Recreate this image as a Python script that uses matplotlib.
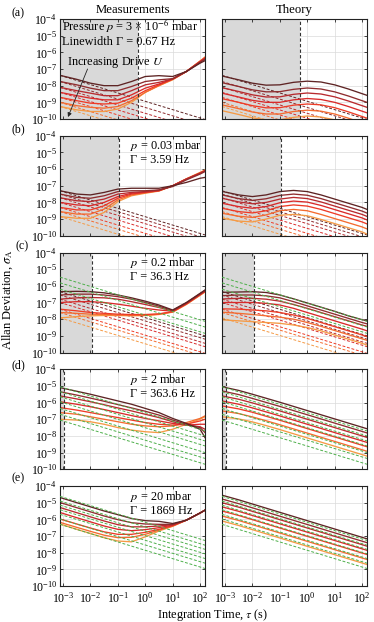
import numpy as np
import matplotlib
matplotlib.use("Agg")
import matplotlib.pyplot as plt

plt.rcParams['font.family'] = ['Liberation Serif', 'DejaVu Serif']
plt.rcParams['mathtext.fontset'] = 'stix'

# ---------------- data (log10 of Allan deviation) ----------------
LOG_TAU = [-3.11, -2.5, -2.0, -1.5, -1.0, -0.5, 0.0, 0.5, 1.0, 1.5, 2.0, 2.18]
TAU_LEFT, TAU_RIGHT = -3.11, 2.18

# curves ordered from lowest drive (orange) to highest drive (dark brown)
DRIVE_COLORS = ['#f59a45', '#f46b2f', '#ee3b26', '#d92a2a', '#b82a2e', '#8f2d2f', '#5e2424']
GREEN = '#4daf4a'

meas_a = [
    [-9.25, -9.45, -9.55, -9.55, -9.4, -9.0, -8.4, -8.0, -7.65, -7.15, -6.52, -6.28],
    [-9.0, -9.2, -9.3, -9.35, -9.25, -8.9, -8.4, -8.0, -7.62, -7.15, -6.53, -6.3],
    [-8.7, -8.9, -9.05, -9.1, -9.05, -8.75, -8.3, -7.95, -7.6, -7.15, -6.55, -6.33],
    [-8.4, -8.6, -8.75, -8.85, -8.85, -8.55, -8.15, -7.9, -7.6, -7.15, -6.56, -6.35],
    [-8.1, -8.3, -8.45, -8.6, -8.6, -8.3, -7.95, -7.8, -7.6, -7.15, -6.58, -6.38],
    [-7.75, -7.95, -8.15, -8.3, -8.3, -8.05, -7.75, -7.65, -7.58, -7.15, -6.6, -6.42],
    [-7.38, -7.62, -7.85, -8.0, -8.0, -7.75, -7.45, -7.4, -7.45, -7.15, -6.65, -6.5],
]
theory_a = [
    [-9.5, -9.73, -9.93, -10.05, -10.05, -9.9, -9.82, -9.88, -10.05, -10.3, -10.58, -10.68],
    [-9.15, -9.38, -9.58, -9.7, -9.7, -9.55, -9.47, -9.53, -9.7, -9.95, -10.23, -10.33],
    [-8.78, -9.0, -9.2, -9.33, -9.32, -9.17, -9.1, -9.15, -9.32, -9.57, -9.85, -9.95],
    [-8.45, -8.68, -8.88, -9.0, -9.0, -8.85, -8.77, -8.83, -9.0, -9.25, -9.53, -9.63],
    [-8.12, -8.35, -8.55, -8.68, -8.67, -8.52, -8.44, -8.5, -8.67, -8.92, -9.2, -9.3],
    [-7.82, -8.05, -8.25, -8.37, -8.36, -8.22, -8.14, -8.2, -8.37, -8.62, -8.9, -9.0],
    [-7.42, -7.65, -7.85, -7.97, -7.95, -7.8, -7.73, -7.78, -7.95, -8.2, -8.48, -8.58],
]
meas_b = [
    [-8.85, -8.95, -8.95, -8.6, -7.95, -7.6, -7.45, -7.32, -7.0, -6.58, -6.2, -6.05],
    [-8.55, -8.7, -8.7, -8.4, -7.85, -7.55, -7.42, -7.3, -7.0, -6.6, -6.22, -6.08],
    [-8.3, -8.45, -8.45, -8.2, -7.75, -7.5, -7.4, -7.3, -7.0, -6.6, -6.25, -6.1],
    [-8.0, -8.15, -8.2, -8.0, -7.65, -7.45, -7.38, -7.28, -7.0, -6.6, -6.25, -6.1],
    [-7.72, -7.9, -7.95, -7.8, -7.5, -7.4, -7.35, -7.27, -7.0, -6.6, -6.25, -6.1],
    [-7.5, -7.7, -7.75, -7.6, -7.35, -7.3, -7.3, -7.25, -7.05, -6.65, -6.3, -6.15],
    [-7.3, -7.5, -7.55, -7.4, -7.2, -7.15, -7.15, -7.15, -7.0, -6.8, -6.55, -6.5],
]
theory_b = [
    [-8.95, -9.12, -9.17, -9.0, -8.77, -8.72, -8.8, -9.02, -9.27, -9.52, -9.77, -9.9],
    [-8.65, -8.83, -8.9, -8.75, -8.5, -8.42, -8.5, -8.72, -8.97, -9.22, -9.47, -9.59],
    [-8.35, -8.55, -8.63, -8.5, -8.25, -8.15, -8.22, -8.42, -8.67, -8.92, -9.17, -9.29],
    [-8.05, -8.25, -8.35, -8.25, -8.02, -7.92, -7.98, -8.18, -8.43, -8.68, -8.93, -9.05],
    [-7.75, -7.97, -8.08, -8.0, -7.8, -7.7, -7.77, -7.97, -8.22, -8.47, -8.72, -8.84],
    [-7.55, -7.77, -7.88, -7.78, -7.58, -7.5, -7.57, -7.77, -8.02, -8.27, -8.52, -8.64],
    [-7.34, -7.55, -7.65, -7.55, -7.35, -7.28, -7.35, -7.55, -7.8, -8.05, -8.3, -8.42],
]
meas_c = [
    [-7.92, -7.85, -7.8, -7.78, -7.78, -7.8, -7.78, -7.72, -7.58, -7.12, -6.57, -6.37],
    [-7.6, -7.65, -7.7, -7.72, -7.75, -7.77, -7.77, -7.7, -7.56, -7.1, -6.55, -6.35],
    [-7.4, -7.5, -7.6, -7.65, -7.7, -7.72, -7.72, -7.68, -7.55, -7.08, -6.53, -6.33],
    [-7.0, -6.95, -6.95, -7.0, -7.1, -7.22, -7.35, -7.45, -7.52, -7.07, -6.52, -6.32],
    [-6.8, -6.72, -6.7, -6.72, -6.8, -6.95, -7.12, -7.3, -7.5, -7.05, -6.5, -6.3],
    [-6.55, -6.5, -6.5, -6.55, -6.65, -6.8, -7.0, -7.22, -7.48, -7.02, -6.47, -6.27],
    [-6.35, -6.33, -6.35, -6.42, -6.55, -6.72, -6.92, -7.15, -7.45, -7.0, -6.45, -6.25],
]
theory_c = [
    [-8.04, -8.1, -8.15, -8.2, -8.25, -8.35, -8.5, -8.7, -8.95, -9.2, -9.45, -9.55],
    [-7.58, -7.65, -7.72, -7.8, -7.88, -8.0, -8.2, -8.43, -8.68, -8.93, -9.18, -9.27],
    [-7.38, -7.4, -7.45, -7.5, -7.6, -7.75, -7.95, -8.2, -8.45, -8.7, -8.95, -9.05],
    [-7.0, -7.0, -7.0, -7.05, -7.15, -7.35, -7.6, -7.85, -8.1, -8.35, -8.6, -8.7],
    [-6.79, -6.75, -6.75, -6.8, -6.92, -7.12, -7.35, -7.6, -7.85, -8.1, -8.35, -8.43],
    [-6.59, -6.55, -6.55, -6.6, -6.72, -6.95, -7.2, -7.45, -7.7, -7.95, -8.2, -8.28],
    [-6.39, -6.37, -6.35, -6.4, -6.55, -6.78, -7.03, -7.28, -7.53, -7.8, -8.03, -8.1],
]
meas_d = [
    [-7.0, -7.05, -7.15, -7.3, -7.5, -7.65, -7.75, -7.8, -7.6, -7.3, -7.0, -6.85],
    [-6.6, -6.7, -6.85, -7.0, -7.15, -7.3, -7.4, -7.45, -7.4, -7.2, -6.95, -6.8],
    [-6.3, -6.45, -6.6, -6.75, -6.9, -7.05, -7.2, -7.3, -7.35, -7.3, -7.1, -7.0],
    [-5.95, -6.1, -6.25, -6.42, -6.6, -6.78, -6.95, -7.1, -7.25, -7.35, -7.3, -7.3],
    [-5.6, -5.78, -5.95, -6.13, -6.32, -6.5, -6.7, -6.9, -7.15, -7.35, -7.45, -7.6],
    [-5.35, -5.55, -5.73, -5.92, -6.12, -6.32, -6.52, -6.75, -7.05, -7.3, -7.5, -7.8],
    [-5.1, -5.32, -5.5, -5.7, -5.9, -6.1, -6.35, -6.6, -6.95, -7.25, -7.6, -8.1],
]
theory_d = [
    [-6.85, -6.98, -7.16, -7.38, -7.62, -7.87, -8.12, -8.37, -8.62, -8.87, -9.12, -9.21],
    [-6.5, -6.66, -6.86, -7.09, -7.33, -7.58, -7.83, -8.08, -8.33, -8.58, -8.83, -8.92],
    [-6.2, -6.38, -6.58, -6.82, -7.06, -7.31, -7.56, -7.81, -8.06, -8.31, -8.56, -8.65],
    [-5.9, -6.1, -6.32, -6.56, -6.8, -7.05, -7.3, -7.55, -7.8, -8.05, -8.3, -8.39],
    [-5.6, -5.8, -6.02, -6.26, -6.5, -6.75, -7.0, -7.25, -7.5, -7.75, -8.0, -8.09],
    [-5.3, -5.52, -5.75, -5.99, -6.23, -6.48, -6.73, -6.98, -7.23, -7.48, -7.73, -7.82],
    [-5.05, -5.27, -5.5, -5.74, -5.98, -6.23, -6.48, -6.73, -6.98, -7.23, -7.48, -7.57],
]
meas_e = [
    [-6.28, -6.6, -6.85, -7.1, -7.3, -7.35, -7.05, -6.7, -6.42, -6.05, -5.62, -5.45],
    [-6.18, -6.48, -6.72, -6.95, -7.1, -7.08, -6.9, -6.65, -6.4, -6.05, -5.62, -5.45],
    [-5.98, -6.28, -6.52, -6.75, -6.9, -6.9, -6.78, -6.6, -6.38, -6.05, -5.62, -5.45],
    [-5.59, -5.9, -6.15, -6.4, -6.6, -6.68, -6.62, -6.5, -6.35, -6.05, -5.62, -5.45],
    [-5.29, -5.6, -5.85, -6.1, -6.32, -6.45, -6.45, -6.4, -6.32, -6.05, -5.62, -5.45],
    [-4.99, -5.3, -5.55, -5.8, -6.02, -6.2, -6.28, -6.3, -6.3, -6.05, -5.62, -5.45],
    [-4.69, -5.0, -5.25, -5.5, -5.72, -5.95, -6.08, -6.12, -6.25, -6.05, -5.62, -5.45],
]
theory_e = [
    [-6.1, -6.37, -6.62, -6.87, -7.12, -7.37, -7.62, -7.87, -8.12, -8.37, -8.62, -8.71],
    [-5.8, -6.07, -6.32, -6.57, -6.82, -7.07, -7.32, -7.57, -7.82, -8.07, -8.32, -8.41],
    [-5.5, -5.77, -6.02, -6.27, -6.52, -6.77, -7.02, -7.27, -7.52, -7.77, -8.02, -8.11],
    [-5.25, -5.52, -5.77, -6.02, -6.27, -6.52, -6.77, -7.02, -7.27, -7.52, -7.77, -7.86],
    [-5.0, -5.27, -5.52, -5.77, -6.02, -6.27, -6.52, -6.77, -7.02, -7.27, -7.52, -7.61],
    [-4.78, -5.06, -5.31, -5.56, -5.81, -6.06, -6.31, -6.56, -6.81, -7.06, -7.31, -7.4],
    [-4.55, -4.83, -5.08, -5.33, -5.58, -5.83, -6.08, -6.33, -6.58, -6.83, -7.08, -7.17],
]

# straight dashed reference lines: (start at left edge, end at right edge), log10
drive_dash_start_a = [-9.25, -9.0, -8.7, -8.4, -8.1, -7.75, -7.38]
drive_dash_end_a = [-11.9, -11.65, -11.35, -11.05, -10.75, -10.4, -10.03]
drive_dash_start_b = [-8.85, -8.55, -8.3, -8.0, -7.72, -7.5, -7.3]
drive_dash_end_b = [-11.5, -11.2, -10.95, -10.65, -10.37, -10.15, -9.95]
drive_dash_start_c = [-7.92, -7.6, -7.4, -7.0, -6.8, -6.55, -6.35]
drive_dash_end_c = [-10.57, -10.25, -10.05, -9.65, -9.45, -9.2, -9.0]

green_start_c = [-6.2, -5.82, -5.48]
green_end_c = [-8.85, -8.47, -8.13]
green_start_d = [-7.05, -6.7, -6.35, -5.95, -5.65, -5.35, -5.05]
green_end_d = [-9.7, -9.35, -9.0, -8.6, -8.3, -8.0, -7.7]
green_start_e = [-6.3, -5.98, -5.7, -5.42, -5.15, -4.9, -4.62]
green_end_e = [-8.95, -8.63, -8.35, -8.07, -7.8, -7.55, -7.27]

# boundary of shaded region (s); None = no shading
shade_edge = [0.55, 0.107, 0.0112, 0.00107, None]

pressure_text = ["Pressure $p$ = 3 \u00d7 10$^{-6}$ mbar", "$p$ = 0.03 mbar", "$p$ = 0.2 mbar",
                 "$p$ = 2 mbar", "$p$ = 20 mbar"]
linewidth_text = ["Linewidth \u0393 = 0.67 Hz", "\u0393 = 3.59 Hz", "\u0393 = 36.3 Hz",
                  "\u0393 = 363.6 Hz", "\u0393 = 1869 Hz"]
panel_labels = ["(a)", "(b)", "(c)", "(d)", "(e)"]
col_titles = ["Measurements", "Theory"]
x_ticks = [1e-3, 1e-2, 1e-1, 1e0, 1e1, 1e2]
y_ticks = [1e-10, 1e-9, 1e-8, 1e-7, 1e-6, 1e-5, 1e-4]

rows = [
    dict(meas=meas_a, theory=theory_a, ds=drive_dash_start_a, de=drive_dash_end_a, gs=None, ge=None),
    dict(meas=meas_b, theory=theory_b, ds=drive_dash_start_b, de=drive_dash_end_b, gs=None, ge=None),
    dict(meas=meas_c, theory=theory_c, ds=drive_dash_start_c, de=drive_dash_end_c, gs=green_start_c, ge=green_end_c),
    dict(meas=meas_d, theory=theory_d, ds=None, de=None, gs=green_start_d, ge=green_end_d),
    dict(meas=meas_e, theory=theory_e, ds=None, de=None, gs=green_start_e, ge=green_end_e),
]

# ---------------- figure ----------------
W, H = 374, 622
fig = plt.figure(figsize=(W / 100, H / 100), dpi=100)
axes = fig.subplots(5, 2, sharex=True, sharey=True,
                    gridspec_kw=dict(left=60 / W, right=367 / W, top=1 - 19 / H, bottom=1 - 586 / H,
                                     hspace=0.1675, wspace=0.117))

tau = 10 ** np.array(LOG_TAU)
xl = (10 ** TAU_LEFT, 10 ** TAU_RIGHT)
dash = (0, (3.0, 1.8))
TXT = 8.8

for r, row in enumerate(rows):
    for c in range(2):
        ax = axes[r, c]
        ax.set_xscale('log')
        ax.set_yscale('log')
        ax.set_xlim(*xl)
        ax.set_ylim(1e-10, 1e-4)
        ax.grid(True, which='major', color='#dadada', lw=0.5)
        if shade_edge[r] is not None:
            ax.axvspan(xl[0], shade_edge[r], color='#d9d9d9', lw=0, zorder=0.5)
            ax.axvline(shade_edge[r], color='#333333', ls=(0, (3, 2)), lw=0.8, zorder=3)
        if row['ds'] is not None:
            for i in range(7):
                ax.plot(xl, [10 ** row['ds'][i], 10 ** row['de'][i]], color=DRIVE_COLORS[i],
                        ls=dash, lw=0.7, zorder=2)
        curves = row['meas'] if c == 0 else row['theory']
        for i in range(7):
            ax.plot(tau, 10 ** np.array(curves[i]), color=DRIVE_COLORS[i], lw=0.95, zorder=2.5)
        if row['gs'] is not None:
            for s, e in zip(row['gs'], row['ge']):
                ax.plot(xl, [10 ** s, 10 ** e], color=GREEN, ls=dash, lw=0.7, zorder=2.6)
        ax.set_xticks(x_ticks)
        ax.set_yticks(y_ticks)
        ax.tick_params(which='both', direction='in', top=True, right=True, labelsize=8.6,
                       width=0.5, pad=2)
        ax.tick_params(axis='x', which='both', pad=3.5)
        ax.tick_params(which='major', length=2.5)
        ax.tick_params(which='minor', length=1.3)
        for sp in ax.spines.values():
            sp.set_linewidth(0.8)
            sp.set_color('#222222')
        if c == 1:
            ax.tick_params(labelleft=False)
        if r < 4:
            ax.tick_params(labelbottom=False)
        if r == 0:
            ax.set_title(col_titles[c], fontsize=9.2, pad=4)

    ax = axes[r, 0]
    if r == 0:
        ax.text(0.014, 0.93, pressure_text[r], transform=ax.transAxes, fontsize=TXT, va='center', ha='left')
        ax.text(0.014, 0.77, linewidth_text[r], transform=ax.transAxes, fontsize=TXT, va='center', ha='left')
        ax.text(0.046, 0.563, "Increasing Drive $U$", transform=ax.transAxes, fontsize=TXT,
                va='center', ha='left')
        ax.annotate("", xy=(0.055, 0.02), xytext=(0.19, 0.5), xycoords='axes fraction',
                    arrowprops=dict(arrowstyle='-|>', color='#222222', lw=0.6,
                                    mutation_scale=6, shrinkA=0, shrinkB=0))
    else:
        ax.text(0.483, 0.9, pressure_text[r], transform=ax.transAxes, fontsize=TXT, va='center', ha='left')
        ax.text(0.483, 0.755, linewidth_text[r], transform=ax.transAxes, fontsize=TXT, va='center', ha='left')

label_pos = [(18, 13), (18, 129), (22, 246), (18, 365), (18, 478)]
for lab, (px, py) in zip(panel_labels, label_pos):
    fig.text(px / W, 1 - py / H, lab, fontsize=8.6, ha='center', va='center')

fig.text(8 / W, 0.518, "Allan Deviation, $\\sigma_{\\rm A}$", rotation=90, fontsize=9,
         ha='center', va='center')
fig.text(213 / W, 1 - 615 / H, "Integration Time, $\\tau$ (s)", fontsize=8.8, ha='center', va='center')

fig.savefig("out.png", dpi=100)
